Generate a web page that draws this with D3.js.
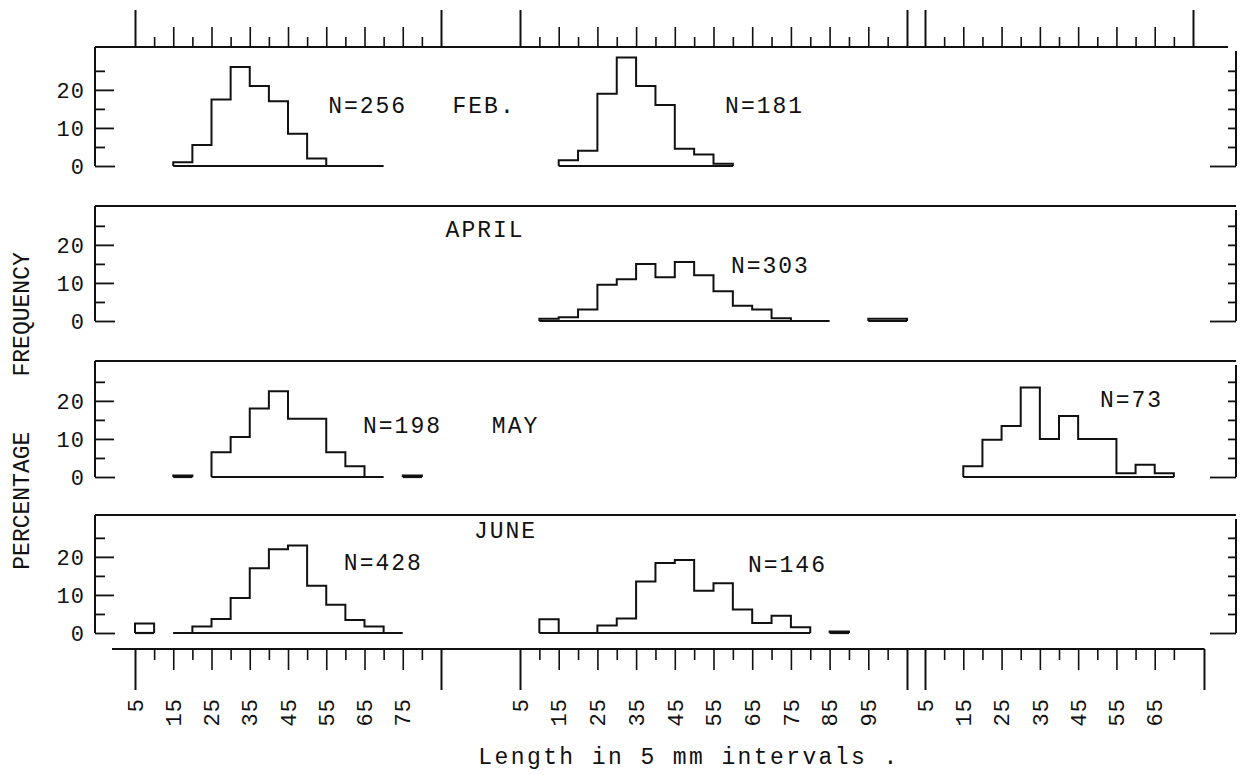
<!DOCTYPE html>
<html>
<head>
<meta charset="utf-8">
<script src="https://cdn.jsdelivr.net/npm/d3@7"></script>
<style>
body { margin: 0; background: #fff; }
svg text { font-family: "Liberation Mono", "DejaVu Sans Mono", monospace; fill: #111; }
</style>
</head>
<body>
<script>
// length classes in 5 mm steps; each histogram lists percentages from its first class
const sections = [[5, 85], [5, 105], [5, 75]]
const tickLabels = [
  [5, 15, 25, 35, 45, 55, 65, 75],
  [5, 15, 25, 35, 45, 55, 65, 75, 85, 95],
  [5, 15, 25, 35, 45, 55, 65]
]
const yTicks = [0, 5, 10, 15, 20, 25]
const yLabels = [0, 10, 20]
const months = ['FEB.', 'APRIL', 'MAY', 'JUNE']

const febSmall = [1, 5.5, 17.5, 26, 21, 17, 8.5, 2]
const febLarge = [1.5, 4, 19, 28.5, 21, 16, 4.5, 3, 0.6]
const aprLarge = [0.6, 1, 3, 9.5, 11, 15, 11.5, 15.5, 12, 7.8, 4, 3, 0.7]
const aprStray = [0.6, 0.6]
const maySmall = [6.5, 10.5, 18, 22.5, 15.3, 15.3, 6.5, 2.8]
const mayStrayA = [0.4]
const mayStrayB = [0.4]
const mayLarge = [2.8, 9.8, 13.4, 23.5, 10, 16, 10, 10, 1, 3.2, 1]
const junStray = [2.5]
const junSmall = [0, 1.7, 3.7, 9.2, 17, 22, 23, 12.4, 7.4, 3.4, 1.7]
const junLarge = [3.6, 0, 0, 2, 3.8, 13.5, 18.4, 19.2, 11.1, 13.1, 6.2, 2.6, 4.5, 1.5]
const junStrayB = [0.4]

const sampleSizes = [256, 181, 303, 198, 73, 428, 146]

// panel, section, first class, class where the base line stops
const histograms = [
  {panel: 0, section: 0, start: 15, to: 70, values: febSmall},
  {panel: 0, section: 1, start: 15, to: 60, values: febLarge},
  {panel: 1, section: 1, start: 10, to: 85, values: aprLarge},
  {panel: 1, section: 1, start: 95, to: 105, values: aprStray},
  {panel: 2, section: 0, start: 25, to: 70, values: maySmall},
  {panel: 2, section: 0, start: 15, to: 20, values: mayStrayA},
  {panel: 2, section: 0, start: 75, to: 80, values: mayStrayB},
  {panel: 2, section: 2, start: 15, to: 70, values: mayLarge},
  {panel: 3, section: 0, start: 5, to: 10, values: junStray},
  {panel: 3, section: 0, start: 15, to: 75, values: junSmall},
  {panel: 3, section: 1, start: 10, to: 80, values: junLarge},
  {panel: 3, section: 1, start: 85, to: 90, values: junStrayB}
]

// text placed in data units: [panel, section, class, percent]
const notes = [
  {text: 'N=' + sampleSizes[0], at: [0, 0, 55.5, 14]},
  {text: months[0], at: [0, 0, 88, 14]},
  {text: 'N=' + sampleSizes[1], at: [0, 1, 58, 14]},
  {text: months[1], at: [1, 0, 86.2, 22]},
  {text: 'N=' + sampleSizes[2], at: [1, 1, 59.5, 12.5]},
  {text: 'N=' + sampleSizes[3], at: [2, 0, 64.6, 11.5]},
  {text: months[2], at: [2, 0, 98.3, 11.5]},
  {text: 'N=' + sampleSizes[4], at: [2, 2, 50.7, 18.5]},
  {text: 'N=' + sampleSizes[5], at: [3, 0, 59.6, 16.5]},
  {text: months[3], at: [3, 0, 93.6, 25]},
  {text: 'N=' + sampleSizes[6], at: [3, 1, 63.9, 16]}
]

const width = 1246
const height = 775
const ink = '#111'
const left = 95
const right = 1236
const topAxisY = 47
const bottomAxisY = 649
const panelTops = [47, 206, 361, 515]
const panelZeros = [166, 321, 477, 633]

const svg = d3.select('body')
  .append('svg')
  .attr('width', width)
  .attr('height', height)

const sectionRanges = [[135, 441], [520, 907], [925, 1193]]
const xs = sections.map((d, i) => d3.scaleLinear().domain(d).range(sectionRanges[i]))
const ys = months.map((m, i) => d3.scaleLinear()
  .domain([0, 31])
  .range([panelZeros[i], panelZeros[i] - 118]))

const isEdge = (d, i) => d === sections[i][0] || d === sections[i][1]

// top scale
svg.append('line')
  .attr('x1', left).attr('x2', 1228)
  .attr('y1', topAxisY).attr('y2', topAxisY)
  .attr('stroke', ink).attr('stroke-width', 2)

xs.forEach((x, i) => {
  const g = svg.append('g')
    .attr('transform', `translate(0,${topAxisY})`)
    .attr('color', ink)
    .call(d3.axisTop(x)
      .tickValues(d3.range(sections[i][0], sections[i][1] + 1, 5))
      .tickFormat('')
      .tickSizeOuter(0))
  g.select('.domain').remove()
  g.selectAll('.tick line')
    .attr('stroke-width', (d) => isEdge(d, i) ? 2 : 1.6)
    .attr('y2', (d) => isEdge(d, i) ? -37 : (d % 10 === 5 ? -20 : -10))
})

// bottom scale
svg.append('line')
  .attr('x1', 112).attr('x2', xs[2](78))
  .attr('y1', bottomAxisY).attr('y2', bottomAxisY)
  .attr('stroke', ink).attr('stroke-width', 2)
svg.append('line')
  .attr('x1', xs[2](78)).attr('x2', xs[2](78))
  .attr('y1', bottomAxisY).attr('y2', bottomAxisY + 41)
  .attr('stroke', ink).attr('stroke-width', 2)

xs.forEach((x, i) => {
  const last = i === 2 ? 70 : sections[i][1]
  const g = svg.append('g')
    .attr('transform', `translate(0,${bottomAxisY})`)
    .attr('color', ink)
    .call(d3.axisBottom(x)
      .tickValues(d3.range(sections[i][0], last + 1, 5))
      .tickFormat('')
      .tickSizeOuter(0))
  g.select('.domain').remove()
  g.selectAll('.tick line')
    .attr('stroke-width', (d) => isEdge(d, i) ? 2 : 1.6)
    .attr('y2', (d) => isEdge(d, i) ? 41 : (d % 10 === 5 ? 21 : 11))

  svg.selectAll(null)
    .data(tickLabels[i])
    .enter()
    .append('text')
    .attr('transform', (d) => `translate(${x(d)},698) rotate(-90)`)
    .attr('text-anchor', 'end')
    .attr('dy', '0.35em')
    .attr('font-size', 22)
    .attr('letter-spacing', 1)
    .text((d) => d)
})

// panels
ys.forEach((y, i) => {
  if (i > 0) {
    svg.append('line')
      .attr('x1', left).attr('x2', right)
      .attr('y1', panelTops[i]).attr('y2', panelTops[i])
      .attr('stroke', ink).attr('stroke-width', 2)
  }

  svg.append('line')
    .attr('x1', left).attr('x2', left)
    .attr('y1', y(0)).attr('y2', panelTops[i])
    .attr('stroke', ink).attr('stroke-width', 2)

  const la = svg.append('g')
    .attr('transform', `translate(${left},0)`)
    .attr('color', ink)
    .call(d3.axisRight(y).tickValues(yTicks).tickFormat('').tickSizeOuter(0))
  la.select('.domain').remove()
  la.selectAll('.tick line')
    .attr('stroke-width', 1.8)
    .attr('x2', (d) => d === 0 ? 20 : (d % 10 === 0 ? 19 : 10))

  svg.selectAll(null)
    .data(yLabels)
    .enter()
    .append('text')
    .attr('x', 85)
    .attr('y', (d) => y(d))
    .attr('dy', '0.36em')
    .attr('text-anchor', 'end')
    .attr('font-size', 22)
    .attr('letter-spacing', 1)
    .text((d) => d)

  const ra = svg.append('g')
    .attr('transform', `translate(${right},0)`)
    .attr('color', ink)
    .call(d3.axisLeft(y).tickValues(yTicks).tickFormat('').tickSizeOuter(0))
  ra.select('.domain').remove()
  ra.selectAll('.tick line')
    .attr('stroke-width', 1.8)
    .attr('x2', (d) => d === 0 ? -26 : -8)
  svg.append('line')
    .attr('x1', right).attr('x2', right)
    .attr('y1', y(0)).attr('y2', panelTops[i] + 4)
    .attr('stroke', ink).attr('stroke-width', 2)
})

// histograms
const steps = (h) => {
  const pts = [[h.start, 0]]
  h.values.forEach((v, k) => {
    pts.push([h.start + k * 5, v])
    pts.push([h.start + (k + 1) * 5, v])
  })
  pts.push([h.start + h.values.length * 5, 0])
  return pts
}

histograms.forEach((h) => {
  const x = xs[h.section]
  const y = ys[h.panel]
  svg.append('line')
    .attr('x1', x(h.start)).attr('x2', x(h.to))
    .attr('y1', y(0)).attr('y2', y(0))
    .attr('stroke', ink).attr('stroke-width', 2.2)
  svg.append('path')
    .datum(steps(h))
    .attr('fill', 'none')
    .attr('stroke', ink)
    .attr('stroke-width', 2)
    .attr('d', d3.line().x((p) => x(p[0])).y((p) => y(p[1])))
})

svg.selectAll('.note')
  .data(notes)
  .enter()
  .append('text')
  .classed('note', true)
  .attr('x', (d) => xs[d.at[1]](d.at[2]))
  .attr('y', (d) => ys[d.at[0]](d.at[3]))
  .attr('font-size', 23)
  .attr('letter-spacing', 2)
  .text((d) => d.text)

svg.append('text')
  .attr('transform', 'translate(21,411) rotate(-90)')
  .attr('text-anchor', 'middle')
  .attr('dy', '0.35em')
  .attr('font-size', 23)
  .style('white-space', 'pre')
  .text('PERCENTAGE    FREQUENCY')

svg.append('text')
  .attr('x', 689)
  .attr('y', 764)
  .attr('text-anchor', 'middle')
  .attr('font-size', 23)
  .attr('letter-spacing', 2.4)
  .style('white-space', 'pre')
  .text('Length in 5 mm intervals .')
</script>
</body>
</html>
